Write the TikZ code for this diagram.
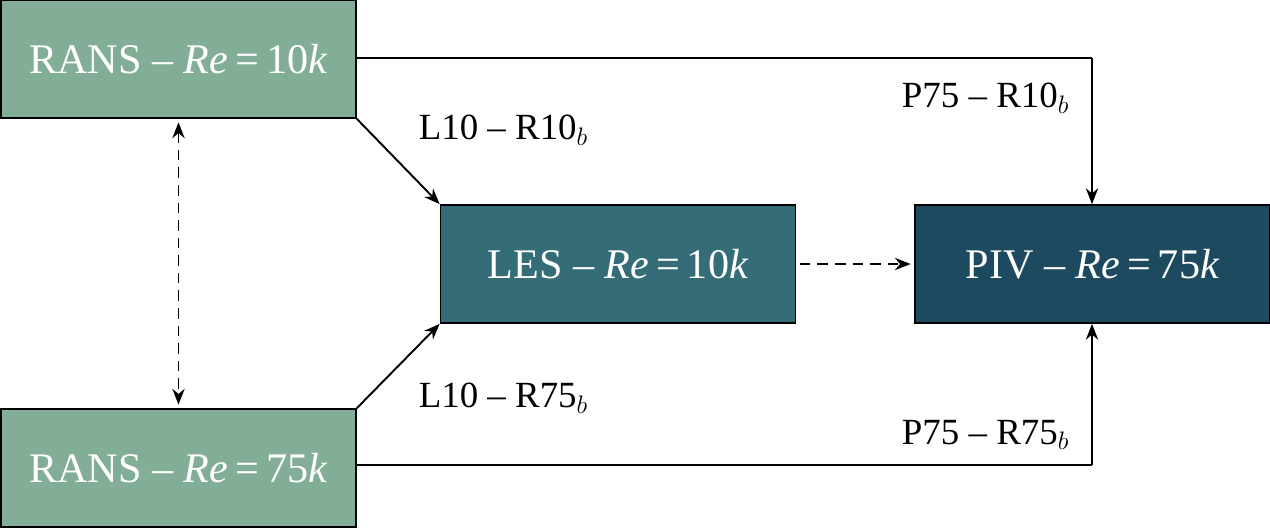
\documentclass[tikz,border=0pt]{standalone}
\usepackage{fontspec}
\setmainfont{Liberation Serif}
\usetikzlibrary{arrows.meta}
\definecolor{cA}{HTML}{82AE98}
\definecolor{cB}{HTML}{346D78}
\definecolor{cC}{HTML}{1E4A60}
\newcommand{\eqs}{\,=\,}
\begin{document}
\begin{tikzpicture}[x=0.02cm,y=-0.02cm,line width=1.1pt,
 box/.style={draw=black,line width=1pt,text=white,font=\fontsize{24}{28}\selectfont,minimum width=7.1cm,minimum height=2.36cm,inner sep=0pt},
 lab/.style={font=\fontsize{21}{25}\selectfont},
 arr/.style={-{Stealth[length=9pt,width=7pt]}},
 dsh/.style={dash pattern=on 6pt off 4pt}]
\useasboundingbox (0,0) rectangle (1270,528);
\node[box,fill=cA] (r10) at (178.5,59) {RANS -- \textit{Re}\eqs10\textit{k}};
\node[box,fill=cA] (r75) at (178.5,468) {RANS -- \textit{Re}\eqs75\textit{k}};
\node[box,fill=cB] (les) at (618,264) {LES -- \textit{Re}\eqs10\textit{k}};
\node[box,fill=cC] (piv) at (1092.5,264) {PIV -- \textit{Re}\eqs75\textit{k}};
\coordinate (c1) at (1092,58);
\coordinate (c2) at (1092,465);
\draw (r10.east|-c1) -- (c1);
\draw[arr] (c1) -- (piv.north-|c1);
\draw (r75.east|-c2) -- (c2);
\draw[arr] (c2) -- (piv.south-|c2);
\draw[arr] (r10.south east) -- (les.north west);
\draw[arr] (r75.north east) -- (les.south west);
\draw[arr,dsh,shorten <=2pt,shorten >=2pt] (les) -- (piv);
\draw[dsh,{Stealth[length=9pt,width=7pt]}-{Stealth[length=9pt,width=7pt]},shorten <=2pt,shorten >=2pt] (r10) -- (r75);
\node[lab,anchor=east] (l1) at (1076,98) {P75 -- R10$_b$};
\node[lab,anchor=west] (l2) at (412,130) {L10 -- R10$_b$};
\node[lab,anchor=west] (l3) at (412,398) {L10 -- R75$_b$};
\node[lab,anchor=east] (l4) at (1076,435) {P75 -- R75$_b$};
\end{tikzpicture}
\end{document}
